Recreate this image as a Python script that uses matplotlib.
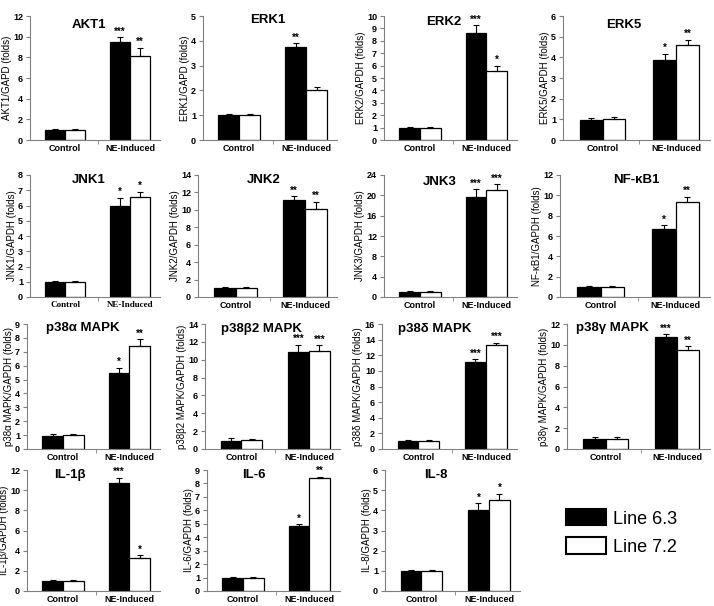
import numpy as np
import matplotlib
matplotlib.use("Agg")
import matplotlib.pyplot as plt
from matplotlib.patches import Patch

plt.rcParams["font.family"] = ["Liberation Sans", "DejaVu Sans"]
plt.rcParams["font.weight"] = "bold"

# ---- data ----
groups = ["Control", "NE-Induced"]
genes = ["AKT1", "ERK1", "ERK2", "ERK5",
         "JNK1", "JNK2", "JNK3", "NF-κB1",
         "p38α MAPK", "p38β2 MAPK", "p38δ MAPK", "p38γ MAPK",
         "IL-1β", "IL-6", "IL-8"]
ylabels = ["AKT1/GAPD (folds)", "ERK1/GAPD (folds)", "ERK2/GAPDH (folds)", "ERK5/GAPDH (folds)",
           "JNK1/GAPDH (folds)", "JNK2/GAPDH (folds)", "JNK3/GAPDH (folds)", "NF-κB1/GAPDH (folds)",
           "p38α MAPK/GAPDH (folds)", "p38β2 MAPK/GAPDH (folds)", "p38δ MAPK/GAPDH (folds)",
           "p38γ MAPK/GAPDH (folds)",
           "IL-1β/GAPDH (folds)", "IL-6/GAPDH (folds)", "IL-8/GAPDH (folds)"]

line63     = [[1.0, 9.45], [1.0, 3.75], [1.0, 8.65], [0.97, 3.87],
              [1.0, 5.95], [1.0, 11.1], [1.0, 19.7], [1.0, 6.65],
              [0.97, 5.45], [0.95, 10.9], [1.0, 11.1], [1.0, 10.75],
              [1.0, 10.75], [0.97, 4.8], [0.97, 4.0]]
line63_err = [[0.1, 0.5], [0.04, 0.15], [0.05, 0.6], [0.1, 0.3],
              [0.05, 0.55], [0.1, 0.45], [0.15, 1.5], [0.1, 0.4],
              [0.1, 0.4], [0.3, 0.8], [0.1, 0.4], [0.15, 0.25],
              [0.1, 0.5], [0.1, 0.15], [0.08, 0.35]]
line72     = [[1.0, 8.1], [1.0, 2.0], [1.0, 5.55], [1.0, 4.6],
              [1.0, 6.55], [1.0, 10.05], [1.0, 21.1], [1.0, 9.3],
              [1.0, 7.45], [1.0, 11.0], [1.0, 13.3], [1.0, 9.55],
              [1.0, 3.3], [1.0, 8.4], [1.0, 4.52]]
line72_err = [[0.08, 0.85], [0.03, 0.12], [0.05, 0.45], [0.1, 0.25],
              [0.05, 0.35], [0.1, 0.9], [0.1, 1.1], [0.05, 0.55],
              [0.08, 0.45], [0.15, 0.6], [0.1, 0.3], [0.12, 0.3],
              [0.05, 0.25], [0.05, 0.1], [0.03, 0.3]]
stars63 = ["***", "**", "***", "*", "*", "**", "***", "*",
           "*", "***", "***", "***", "***", "*", "*"]
stars72 = ["**", "", "*", "**", "*", "**", "***", "**",
           "**", "***", "***", "**", "*", "**", "*"]
ymax  = [12, 5, 10, 6, 8, 14, 24, 12, 9, 14, 16, 12, 12, 9, 6]
ystep = [2, 1, 1, 1, 1, 2, 4, 2, 1, 2, 2, 2, 2, 1, 1]

# ---- layout (pixels) ----
W, H = 714, 606
lefts  = [[30, 203, 384, 563], [30, 198, 384, 560], [27, 205, 382, 567], [27, 207, 385]]
rights = [[160, 337, 517, 710], [160, 337, 517, 710], [160, 340, 517, 710], [160, 340, 520]]
tops    = [16, 175, 324, 470]
bottoms = [140, 297, 449, 591]
title_x = [0.45, 0.48, 0.45, 0.41, 0.45, 0.47, 0.42, 0.51,
           0.42, 0.42, 0.39, 0.32, 0.32, 0.35, 0.38]
title_y = [0.93, 0.97, 0.95, 0.93, 0.96, 0.96, 0.94, 0.96,
           0.97, 0.96, 0.96, 0.97, 0.96, 0.96, 0.96]

fig = plt.figure(figsize=(W / 100, H / 100), dpi=100)
spine_c = "#808080"
w = 0.31

k = 0
for r in range(4):
    for c in range(len(lefts[r])):
        l, rr, t, b = lefts[r][c], rights[r][c], tops[r], bottoms[r]
        ax = fig.add_axes([l / W, 1 - b / H, (rr - l) / W, (b - t) / H])
        x = np.arange(len(groups))
        v1, e1 = np.array(line63[k]), np.array(line63_err[k])
        v2, e2 = np.array(line72[k]), np.array(line72_err[k])
        ax.bar(x - w / 2, v1, w, color="black", edgecolor="black", lw=0.9, zorder=2)
        ax.bar(x + w / 2, v2, w, color="white", edgecolor="black", lw=0.9, zorder=2)
        ax.errorbar(x - w / 2, v1, yerr=[np.zeros(2), e1], fmt="none", ecolor="black",
                    elinewidth=0.8, capsize=2, capthick=0.8, zorder=3)
        ax.errorbar(x + w / 2, v2, yerr=[np.zeros(2), e2], fmt="none", ecolor="black",
                    elinewidth=0.8, capsize=2, capthick=0.8, zorder=3)
        ax.text(1 - w / 2, v1[1] + e1[1] + ymax[k] * 0.005, stars63[k],
                ha="center", va="bottom", fontsize=7)
        ax.text(1 + w / 2, v2[1] + e2[1] + ymax[k] * 0.005, stars72[k],
                ha="center", va="bottom", fontsize=7)

        ax.set_xlim(-0.54, 1.46)
        ax.set_ylim(0, ymax[k])
        ax.set_yticks(np.arange(0, ymax[k] + 0.01, ystep[k]))
        ax.set_xticks(x)
        if k == 4:
            ax.set_xticklabels(groups, fontsize=6.5, family="Liberation Serif")
        else:
            ax.set_xticklabels(groups, fontsize=6.5)
        ax.set_xticks([0.5], minor=True)
        ax.tick_params(axis="x", which="major", length=0, pad=3)
        ax.tick_params(axis="x", which="minor", length=3, color=spine_c)
        ax.tick_params(axis="y", length=3, color=spine_c, labelsize=6.5, pad=2)
        for s in ["top", "right"]:
            ax.spines[s].set_visible(False)
        for s in ["left", "bottom"]:
            ax.spines[s].set_color(spine_c)
            ax.spines[s].set_linewidth(0.8)
        ax.set_ylabel(ylabels[k], fontsize=7, labelpad=1)
        ax.text(title_x[k], title_y[k], genes[k], transform=ax.transAxes,
                ha="center", va="center", fontsize=9.5)
        k += 1

handles = [Patch(facecolor="black", edgecolor="black", lw=1.5),
           Patch(facecolor="white", edgecolor="black", lw=1.5)]
fig.legend(handles, ["Line 6.3", "Line 7.2"], loc="upper left",
           bbox_to_anchor=(550 / W, 1 - 493 / H), frameon=False,
           prop={"size": 13, "weight": "normal"}, handlelength=2.2,
           handleheight=1.0, labelspacing=0.55, handletextpad=0.4)

fig.savefig("out.png", dpi=100)
